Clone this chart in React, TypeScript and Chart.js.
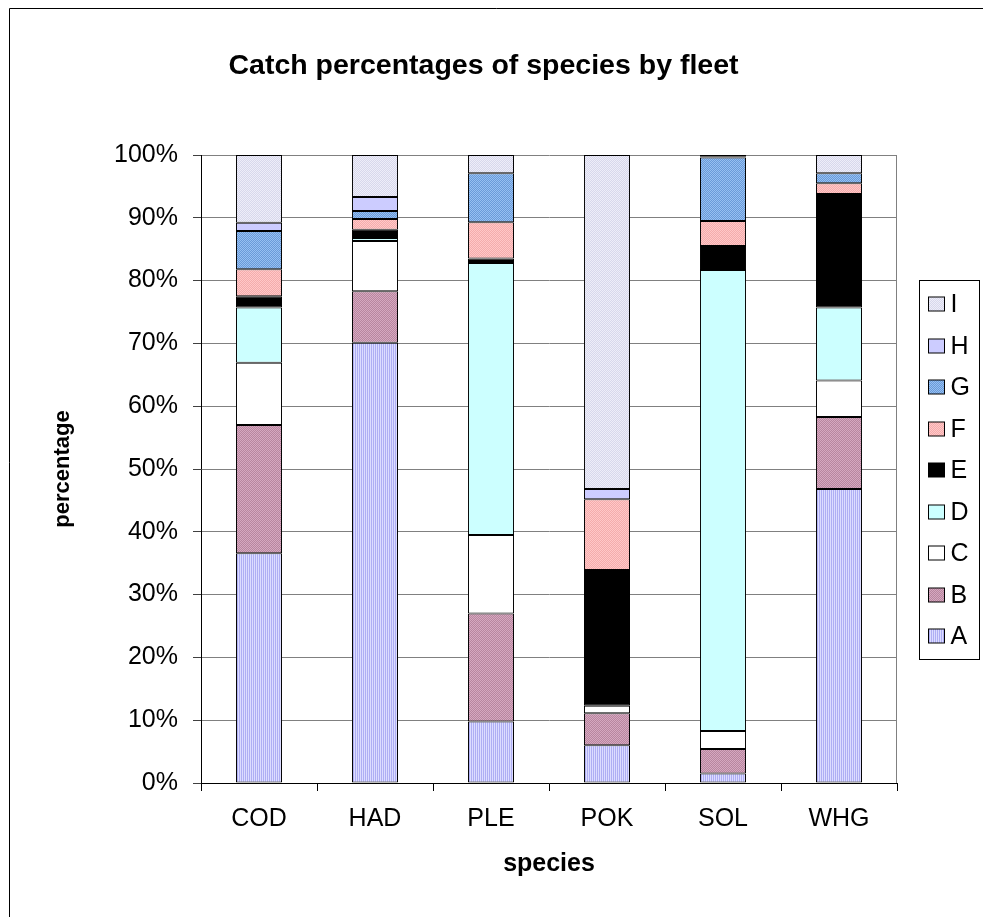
import React, { useEffect, useRef } from "react";
import { Chart, registerables } from "chart.js";

Chart.register(...registerables);

// ---- data ----
const categories = ["COD", "HAD", "PLE", "POK", "SOL", "WHG"];
const seriesNames = ["A", "B", "C", "D", "E", "F", "G", "H", "I"];
const seriesA = [36.6, 70.1, 9.8, 6.0, 1.5, 46.8];
const seriesB = [20.4, 8.2, 17.2, 5.1, 3.9, 11.5];
const seriesC = [9.9, 8.0, 12.5, 1.2, 2.9, 5.8];
const seriesD = [8.8, 0.5, 43.3, 0, 73.4, 11.6];
const seriesE = [1.8, 1.3, 0.7, 21.6, 3.8, 18.1];
const seriesF = [4.3, 1.7, 5.8, 11.3, 4.0, 1.7];
const seriesG = [6.1, 1.3, 7.8, 0, 10.1, 1.6];
const seriesH = [1.3, 2.2, 0, 1.6, 0.2, 0];
const seriesI = [10.8, 6.7, 2.9, 53.2, 0.2, 2.9];
const yTickValues = [0, 10, 20, 30, 40, 50, 60, 70, 80, 90, 100];

const titleText = "Catch percentages of species by fleet";
const xTitle = "species";
const yTitle = "percentage";

const FONT = "'Liberation Sans', Arial, Helvetica, sans-serif";

function makePattern(tile: string[][]): CanvasPattern | string {
  const h = tile.length;
  const w = tile[0].length;
  const c = document.createElement("canvas");
  c.width = w;
  c.height = h;
  const cx = c.getContext("2d");
  if (!cx) return tile[0][0];
  for (let y = 0; y < h; y++) {
    for (let x = 0; x < w; x++) {
      cx.fillStyle = tile[y][x];
      cx.fillRect(x, y, 1, 1);
    }
  }
  const p = cx.createPattern(c, "repeat");
  return p || tile[0][0];
}

const legendPlugin = {
  id: "excelFrameLegend",
  beforeDraw(chart: any) {
    const ctx = chart.ctx;
    ctx.save();
    ctx.fillStyle = "#ffffff";
    ctx.fillRect(0, 0, chart.width, chart.height);
    ctx.strokeStyle = "#000000";
    ctx.lineWidth = 1;
    ctx.beginPath();
    ctx.moveTo(9.5, chart.height);
    ctx.lineTo(9.5, 8.5);
    ctx.lineTo(chart.width, 8.5);
    ctx.stroke();
    ctx.restore();
  },
  afterDatasetsDraw(chart: any) {
    const ctx = chart.ctx;
    const a = chart.chartArea;
    ctx.save();
    ctx.strokeStyle = "#808080";
    ctx.lineWidth = 1;
    ctx.beginPath();
    ctx.moveTo(Math.round(a.right) - 0.5, a.top);
    ctx.lineTo(Math.round(a.right) - 0.5, a.bottom);
    ctx.stroke();
    ctx.restore();
  },
  afterDraw(chart: any) {
    const ctx = chart.ctx;
    const a = chart.chartArea;
    const ds = chart.data.datasets.slice().reverse();
    const step = 41.5;
    const edge = 23.5;
    const lh = Math.round((ds.length - 1) * step + 2 * edge);
    const lx = Math.round(a.right) + 22.5;
    const lw = 60;
    const ly = Math.round((a.top + a.bottom) / 2 - lh / 2) + 0.5;
    ctx.save();
    ctx.strokeStyle = "#000000";
    ctx.lineWidth = 1;
    ctx.strokeRect(lx, ly, lw, lh);
    ds.forEach((d: any, i: number) => {
      const cy = Math.round(ly + edge + i * step);
      ctx.fillStyle = d.backgroundColor;
      ctx.fillRect(lx + 9, cy - 7, 16, 14);
      ctx.strokeRect(lx + 9, cy - 7, 16, 14);
      ctx.fillStyle = "#000000";
      ctx.font = `25px ${FONT}`;
      ctx.textBaseline = "middle";
      ctx.textAlign = "left";
      ctx.fillText(d.label, lx + 31, cy + 1);
    });
    ctx.restore();
  },
};

export default function App() {
  const ref = useRef<HTMLCanvasElement | null>(null);

  useEffect(() => {
    if (!ref.current) return;
    const fills: (CanvasPattern | string)[] = [
      makePattern([["#dcdcff", "#aeaef4"]]),
      makePattern([
        ["#d6a8c0", "#b8869f"],
        ["#b8869f", "#d6a8c0"],
      ]),
      "#ffffff",
      "#ccffff",
      "#000000",
      makePattern([
        ["#ffc8c8", "#f4acac"],
        ["#f4acac", "#ffc8c8"],
      ]),
      makePattern([
        ["#96c0f2", "#6a9ad8"],
        ["#6a9ad8", "#96c0f2"],
      ]),
      "#ccccff",
      makePattern([
        ["#eeeef9", "#d8d8ec"],
        ["#d8d8ec", "#eeeef9"],
      ]),
    ];
    const values = [seriesA, seriesB, seriesC, seriesD, seriesE, seriesF, seriesG, seriesH, seriesI];

    const chart = new Chart(ref.current, {
      type: "bar",
      data: {
        labels: categories,
        datasets: seriesNames.map((name, i) => ({
          label: name,
          data: values[i],
          backgroundColor: fills[i] as any,
          borderColor: "#000000",
          borderWidth: 1,
          borderSkipped: false,
          categoryPercentage: 1,
          barPercentage: 0.397,
        })),
      },
      options: {
        responsive: false,
        animation: false,
        devicePixelRatio: 1,
        layout: { padding: { left: 70, right: 86, top: 0, bottom: 0 } },
        plugins: {
          legend: { display: false },
          tooltip: { enabled: false },
          title: {
            display: true,
            text: titleText,
            color: "#000000",
            font: { family: FONT, size: 28.5, weight: "bold" },
            padding: { top: 49, bottom: 71.8 },
          },
        },
        scales: {
          x: {
            stacked: true,
            grid: {
              display: true,
              offset: true,
              drawOnChartArea: false,
              drawTicks: true,
              tickLength: 8,
              tickColor: "#000000",
              color: "#000000",
            },
            border: { display: true, color: "#000000", width: 1 },
            ticks: {
              color: "#000000",
              font: { family: FONT, size: 25 },
              padding: 13,
              maxRotation: 0,
            },
            title: {
              display: true,
              text: xTitle,
              color: "#000000",
              font: { family: FONT, size: 25, weight: "bold" },
              padding: { top: 0, bottom: 38 },
            },
            afterFit: (s: any) => {
              s.height = 134;
            },
          },
          y: {
            stacked: true,
            min: 0,
            max: 100,
            afterBuildTicks: (s: any) => {
              s.ticks = yTickValues.map((v) => ({ value: v }));
            },
            grid: {
              color: "#808080",
              lineWidth: 1,
              drawTicks: true,
              tickLength: 8,
              tickColor: "#404040",
            },
            border: { display: true, color: "#000000", width: 1 },
            ticks: {
              color: "#000000",
              font: { family: FONT, size: 25 },
              padding: 15,
              callback: (v: any) => `${v}%`,
            },
            title: {
              display: true,
              text: yTitle,
              color: "#000000",
              font: { family: FONT, size: 22, weight: "bold" },
              padding: { top: -20, bottom: 0 },
            },
            afterFit: (s: any) => {
              s.width = 131;
            },
          },
        },
      },
      plugins: [legendPlugin],
    });
    return () => chart.destroy();
  }, []);

  return (
    <div style={{ position: "fixed", left: 0, top: 0, width: 983, height: 917, overflow: "hidden", background: "#fff" }}>
      <canvas ref={ref} width={983} height={917} style={{ display: "block", width: 983, height: 917 }} />
    </div>
  );
}
